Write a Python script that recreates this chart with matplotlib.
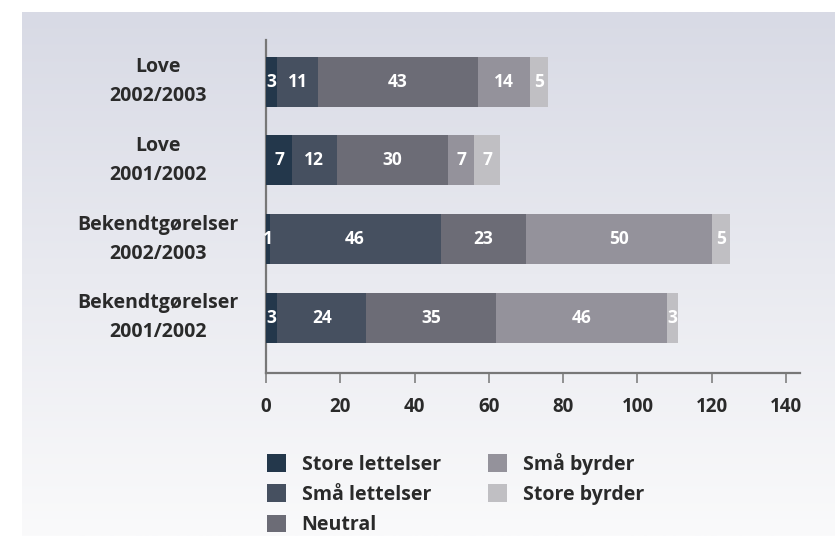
import matplotlib
matplotlib.use("Agg")
import matplotlib.pyplot as plt
import numpy as np
from matplotlib.patches import Patch

plt.rcParams['font.family'] = ['Open Sans', 'DejaVu Sans']

categories = ["Bekendtgørelser\n2001/2002", "Bekendtgørelser\n2002/2003",
              "Love\n2001/2002", "Love\n2002/2003"]
series_names = ["Store lettelser", "Små lettelser", "Neutral", "Små byrder", "Store byrder"]
store_lettelser = [3, 1, 7, 3]
smaa_lettelser = [24, 46, 12, 11]
neutral = [35, 23, 30, 43]
smaa_byrder = [46, 50, 7, 14]
store_byrder = [3, 5, 7, 5]
xticks = [0, 20, 40, 60, 80, 100, 120, 140]

series = [store_lettelser, smaa_lettelser, neutral, smaa_byrder, store_byrder]
colors = ["#23374b", "#465060", "#6c6c76", "#94929b", "#c0bfc3"]

W, H = 835, 536
fig = plt.figure(figsize=(W / 100, H / 100), dpi=100)

# background gradient panel
bg = fig.add_axes([22 / W, 0, 1 - 22 / W, (H - 12) / H], zorder=-10)
top = np.array([216, 218, 229]) / 255
bot = np.array([250, 250, 251]) / 255
t = np.linspace(0, 1, 256)[:, None]
grad = top[None, :] * (1 - t) + bot[None, :] * t
bg.imshow(grad[:, None, :], aspect='auto', extent=[0, 1, 0, 1])
bg.set_axis_off()

ax = fig.add_axes([266 / W, (H - 373) / H, (800 - 266) / W, (373 - 40) / H])
ax.set_facecolor('none')

y = np.arange(len(categories))
left = np.zeros(len(categories))
for vals, col, name in zip(series, colors, series_names):
    vals = np.array(vals, dtype=float)
    ax.barh(y, vals, left=left, height=0.635, color=col, label=name, zorder=3)
    for yi, (l, v) in enumerate(zip(left, vals)):
        ax.text(l + v / 2, yi, f"{int(v)}", ha='center', va='center', color='white',
                fontsize=12.5, fontweight='bold', zorder=4)
    left += vals

ax.set_xlim(0, 143.8)
ax.set_ylim(-0.70, 3.53)
ax.set_xticks(xticks)
ax.set_xticklabels([str(v) for v in xticks], fontsize=13.5, fontweight='bold', color='#2a2a2a')
ax.set_yticks(y)
ax.set_yticklabels(categories, fontsize=14, fontweight='bold', color='#2a2a2a',
                   ha='center', va='center', linespacing=1.6)
ax.tick_params(axis='y', length=0, pad=78)
ax.tick_params(axis='x', length=7, width=1.2, color='#808080', pad=10, direction='out')
for s in ['top', 'right']:
    ax.spines[s].set_visible(False)
for s in ['left', 'bottom']:
    ax.spines[s].set_color('#777777')
    ax.spines[s].set_linewidth(1.6)

handles = [Patch(facecolor=c, edgecolor='none') for c in colors]
fig.legend(handles, series_names, loc='upper left', bbox_to_anchor=(257 / W, 1 - 443 / H),
           ncol=2, frameon=False, borderpad=0, handlelength=1.0, handleheight=1.0,
           handletextpad=0.8, columnspacing=2.4, labelspacing=0.5,
           prop={'size': 14, 'weight': 'bold'}, labelcolor='#2a2a2a')

fig.savefig("out.png", dpi=100)
